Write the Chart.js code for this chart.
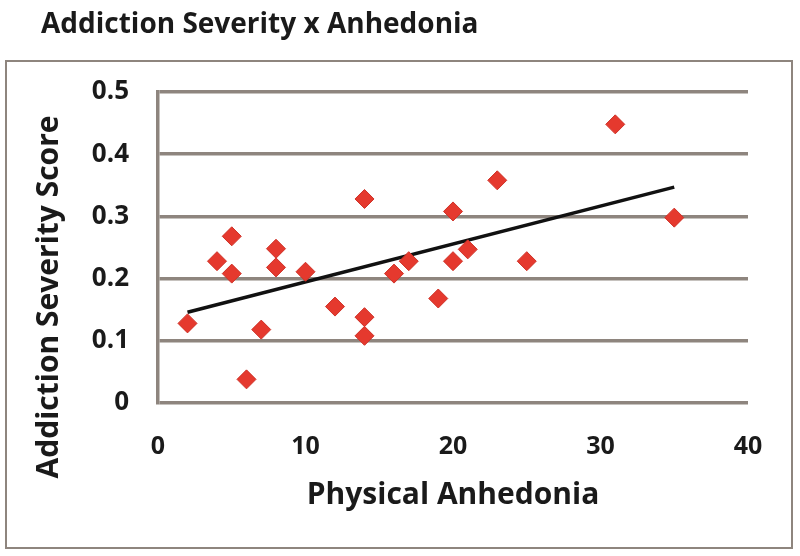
<!DOCTYPE html>
<html>
<head>
<meta charset="utf-8">
<script src="https://cdn.jsdelivr.net/npm/chart.js@4.4.1/dist/chart.umd.min.js"></script>
<style>
  html, body { margin: 0; padding: 0; background: #fff; }
  #wrap { width: 800px; height: 556px; }
</style>
</head>
<body>
<div id="wrap"><canvas id="chart" width="800" height="556"></canvas></div>
<script>
// ── Data ─────────────────────────────────────────────────
const anhedonia = [2, 4, 5, 5, 6, 7, 8, 8, 10, 12, 14, 14, 14, 16, 17, 19, 20, 20, 21, 23, 25, 31, 35];
const severity = [0.128, 0.228, 0.268, 0.208, 0.038, 0.118, 0.248, 0.218, 0.211, 0.155, 0.328, 0.138, 0.108, 0.208, 0.228, 0.168, 0.308, 0.228, 0.247, 0.358, 0.228, 0.448, 0.298];
const trendX = [2, 35];
const trendY = [0.146, 0.347];
const xTickLabels = [0, 10, 20, 30, 40];
const yTickLabels = [0, 0.1, 0.2, 0.3, 0.4, 0.5];

const chartTitle = "Addiction Severity x Anhedonia";
const xTitle = "Physical Anhedonia";
const yTitle = "Addiction Severity Score";

const FONT = "'Open Sans', 'Noto Sans', sans-serif";
const GRID = "#8e857e";
const INK = "#1a1a1a";

// frame, chart title and y title
const framePlugin = {
  id: "frame",
  beforeDraw(chart) {
    const ctx = chart.ctx;
    ctx.save();
    ctx.fillStyle = "#fff";
    ctx.fillRect(0, 0, chart.width, chart.height);
    ctx.strokeStyle = GRID;
    ctx.lineWidth = 2;
    ctx.strokeRect(6, 61, 786, 487);

    ctx.fillStyle = INK;
    ctx.font = "bold 28px " + FONT;
    ctx.textBaseline = "alphabetic";
    ctx.textAlign = "left";
    ctx.fillText(chartTitle, 41, 33);

    ctx.translate(49, 297);
    ctx.rotate(-Math.PI / 2);
    ctx.font = "bold 30px " + FONT;
    ctx.textAlign = "center";
    ctx.textBaseline = "middle";
    ctx.fillText(yTitle, 0, 0);
    ctx.restore();
  },
};

const points = anhedonia.map((x, i) => ({ x: x, y: severity[i] }));
const trend = trendX.map((x, i) => ({ x: x, y: trendY[i] }));

new Chart(document.getElementById("chart"), {
  type: "scatter",
  data: {
    datasets: [
      {
        label: "trend",
        type: "line",
        data: trend,
        borderColor: "#111",
        borderWidth: 3.5,
        pointRadius: 0,
        fill: false,
        order: 2,
      },
      {
        label: "subjects",
        data: points,
        pointStyle: "rectRot",
        pointRadius: 9.5,
        backgroundColor: "#e5392e",
        borderColor: "#cf3127",
        borderWidth: 1,
        order: 1,
      },
    ],
  },
  options: {
    responsive: false,
    animation: false,
    layout: { padding: { left: 0, right: 52, top: 92, bottom: 33 } },
    plugins: {
      legend: { display: false },
      tooltip: { enabled: false },
    },
    scales: {
      x: {
        type: "linear",
        min: 0,
        max: 40,
        afterFit: (s) => { s.height = 120; },
        afterBuildTicks: (s) => { s.ticks = xTickLabels.map((v) => ({ value: v })); },
        grid: { display: false, drawTicks: false },
        border: { display: false },
        ticks: {
          padding: 29,
          color: INK,
          font: { family: FONT, size: 25, weight: "bold" },
        },
        title: {
          display: true,
          text: xTitle,
          color: INK,
          padding: { top: 0, bottom: 10 },
          font: { family: FONT, size: 30, weight: "bold" },
        },
      },
      y: {
        type: "linear",
        min: 0,
        max: 0.5,
        afterFit: (s) => { s.width = 158; },
        afterBuildTicks: (s) => { s.ticks = yTickLabels.map((v) => ({ value: v })); },
        grid: { color: GRID, lineWidth: 3.5, drawTicks: false },
        border: { display: true, color: GRID, width: 3.5 },
        ticks: {
          padding: 29,
          color: INK,
          font: { family: FONT, size: 26, weight: "bold" },
        },
      },
    },
  },
  plugins: [framePlugin],
});
</script>
</body>
</html>
